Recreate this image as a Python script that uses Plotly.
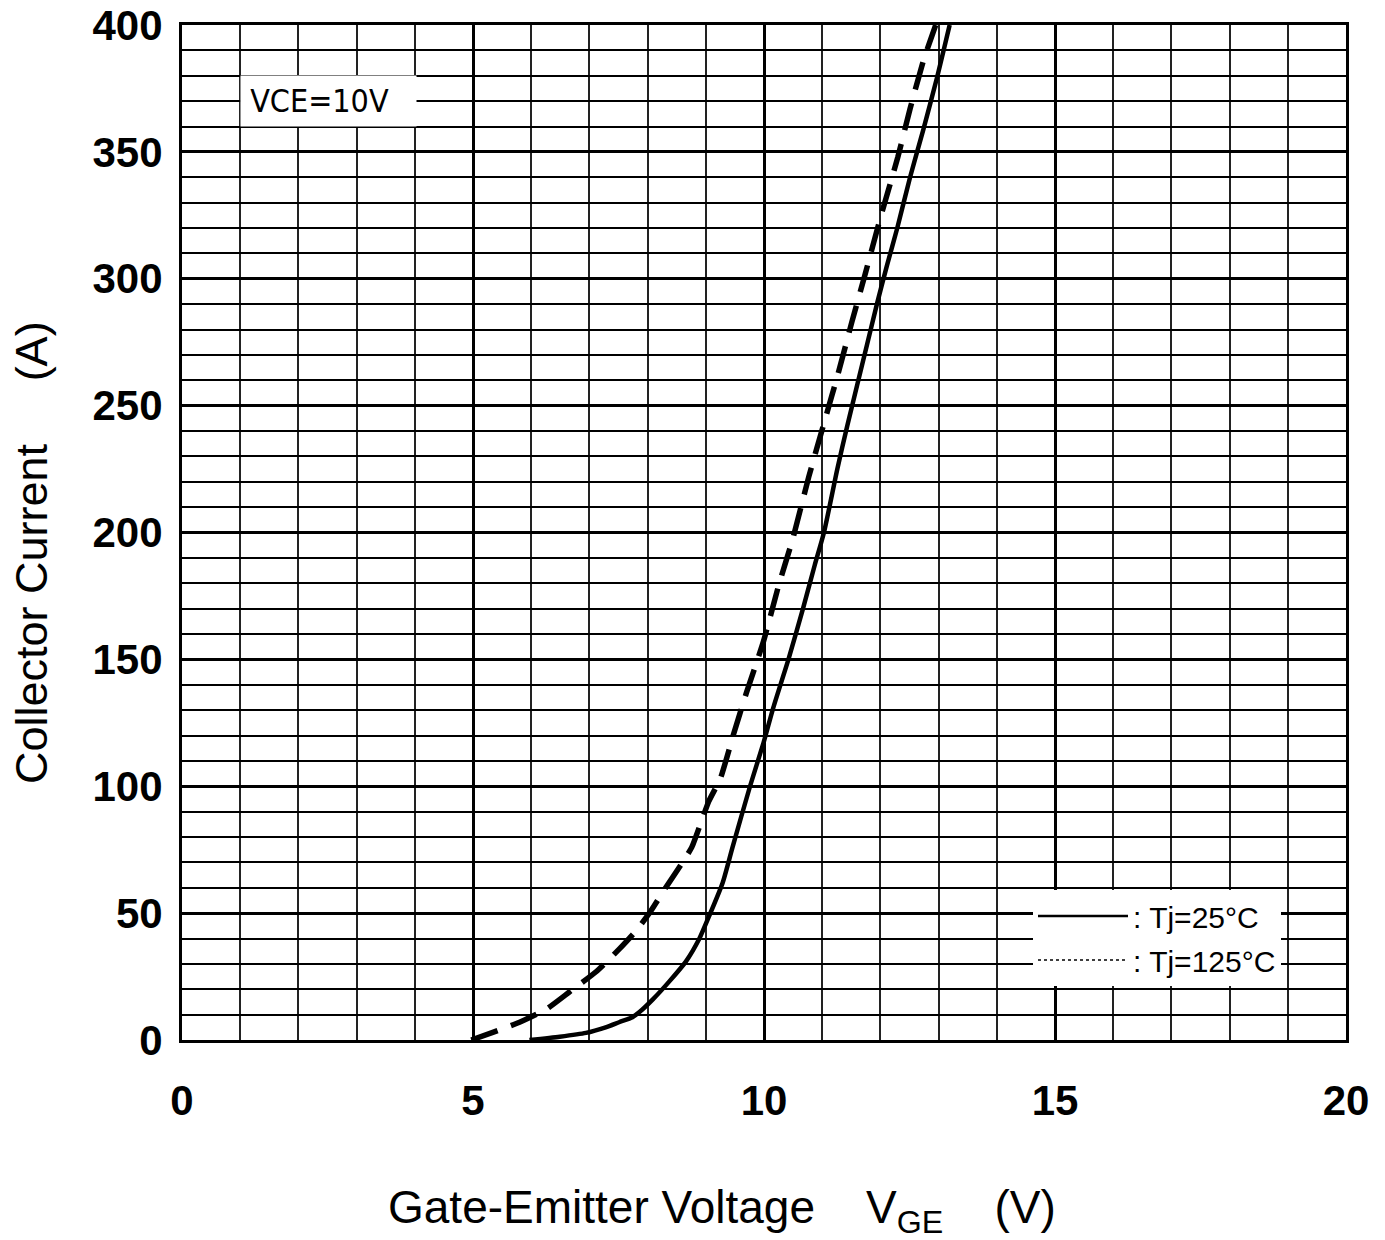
import plotly.graph_objects as go

# ---- data ----
vge_25 = [5.97, 6.49, 6.94, 7.28, 7.51, 7.74, 7.86, 8.09, 8.37, 8.66, 8.89, 9.06, 9.29, 9.46,
          9.76, 9.99, 10.16, 10.42, 10.67, 10.87, 11.03, 11.26, 11.43, 11.6, 11.77, 11.94,
          12.11, 12.29, 12.51, 12.74, 12.97, 13.19]
ic_25 = [0, 1.3, 2.8, 5, 7, 9, 11, 16, 23, 31, 40, 49, 62, 76,
         100, 117, 131, 150, 170, 187, 200, 225, 242, 258, 274, 290,
         305, 320, 340, 359, 379, 400]

vge_125 = [4.97, 5.34, 5.8, 6.25, 6.66, 7.12, 7.52, 7.8, 8.03, 8.31, 8.6, 8.76, 9.05, 9.25,
           9.47, 9.7, 9.99, 10.25, 10.5, 10.77, 11.03, 11.29, 11.51, 11.74, 12.0, 12.3,
           12.51, 12.74, 12.95]
ic_125 = [0, 3, 7, 12, 19, 27, 36, 43, 50, 60, 70, 76, 94, 103,
          120, 137, 157, 179, 198, 222, 243, 264, 283, 302, 324, 348,
          367, 386, 400]

x_ticks = [0, 5, 10, 15, 20]
y_ticks = [0, 50, 100, 150, 200, 250, 300, 350, 400]
series_names = [": Tj=25°C", ": Tj=125°C"]
condition_text = "VCE=10V"

NARROW = "DejaVu Sans Condensed, Liberation Sans Narrow, sans-serif"
SANS = "Liberation Sans, Arial, Helvetica, sans-serif"
NB = "\u00a0"

fig = go.Figure()
fig.add_trace(go.Scatter(x=vge_25, y=ic_25, mode="lines", showlegend=False,
                         line=dict(color="black", width=4.5, shape="spline", smoothing=0.6)))
fig.add_trace(go.Scatter(x=vge_125, y=ic_125, mode="lines", showlegend=False,
                         line=dict(color="black", width=5.5, dash="28px,14px",
                                   shape="spline", smoothing=0.5)))
# legend-only entries (reference legend shows solid and dotted samples)
fig.add_trace(go.Scatter(x=[None], y=[None], mode="lines", name=series_names[0],
                         legendgroup="a", line=dict(color="black", width=2.5)))
fig.add_trace(go.Scatter(x=[None], y=[None], mode="lines", name=series_names[1],
                         legendgroup="b", line=dict(color="black", width=1.5, dash="dot")))

fig.update_layout(
    width=1377, height=1232,
    margin=dict(l=174, r=39, t=17, b=200, autoexpand=False),
    paper_bgcolor="white", plot_bgcolor="white",
    showlegend=True,
    legend=dict(x=(1033 - 182) / 1164, y=(1040 - 890) / 1015, xanchor="left", yanchor="top",
                bgcolor="white", borderwidth=0, itemwidth=90, traceorder="grouped",
                tracegroupgap=2,
                font=dict(family=SANS, size=30, color="black")),
    xaxis=dict(range=[0, 20], tickvals=x_ticks, ticktext=[str(v) for v in x_ticks],
               showgrid=True, gridcolor="black", gridwidth=3, automargin=False,
               minor=dict(dtick=1, showgrid=True, gridcolor="#222", gridwidth=1.5),
               showline=True, linecolor="black", linewidth=3, mirror=True,
               ticks="", ticklabelstandoff=22, zeroline=False, ticklabeloverflow="allow",
               tickfont=dict(family=SANS, size=42, color="black", weight="bold")),
    yaxis=dict(range=[0, 400], tickvals=y_ticks, ticktext=[str(v) for v in y_ticks],
               showgrid=True, gridcolor="black", gridwidth=3, automargin=False,
               minor=dict(dtick=10, showgrid=True, gridcolor="black", gridwidth=2),
               showline=True, linecolor="black", linewidth=3, mirror=True,
               ticks="", ticklabelstandoff=8, zeroline=False, ticklabeloverflow="allow",
               tickfont=dict(family=SANS, size=42, color="black", weight="bold")),
    annotations=[
        dict(text=NB + condition_text, x=1, y=370, xref="x", yref="y", xanchor="left",
             yanchor="middle", showarrow=False, bgcolor="white", width=175, height=50,
             align="left", borderpad=0,
             font=dict(family=NARROW, size=32, color="black")),
        dict(text="Gate-Emitter Voltage" + NB * 4 + "V<sub>GE</sub>" + NB * 4 + "(V)",
             x=(722 - 182) / 1164, y=(1040 - 1210) / 1015, xref="paper", yref="paper",
             xanchor="center", yanchor="middle", showarrow=False,
             font=dict(family=SANS, size=46, color="black")),
        dict(text="Collector Current" + NB * 5 + "(A)",
             x=(31 - 182) / 1164, y=(1040 - 553) / 1015, xref="paper", yref="paper",
             xanchor="center", yanchor="middle", textangle=-90, showarrow=False,
             font=dict(family=SANS, size=45, color="black")),
    ],
)

fig.write_html("out.html")
